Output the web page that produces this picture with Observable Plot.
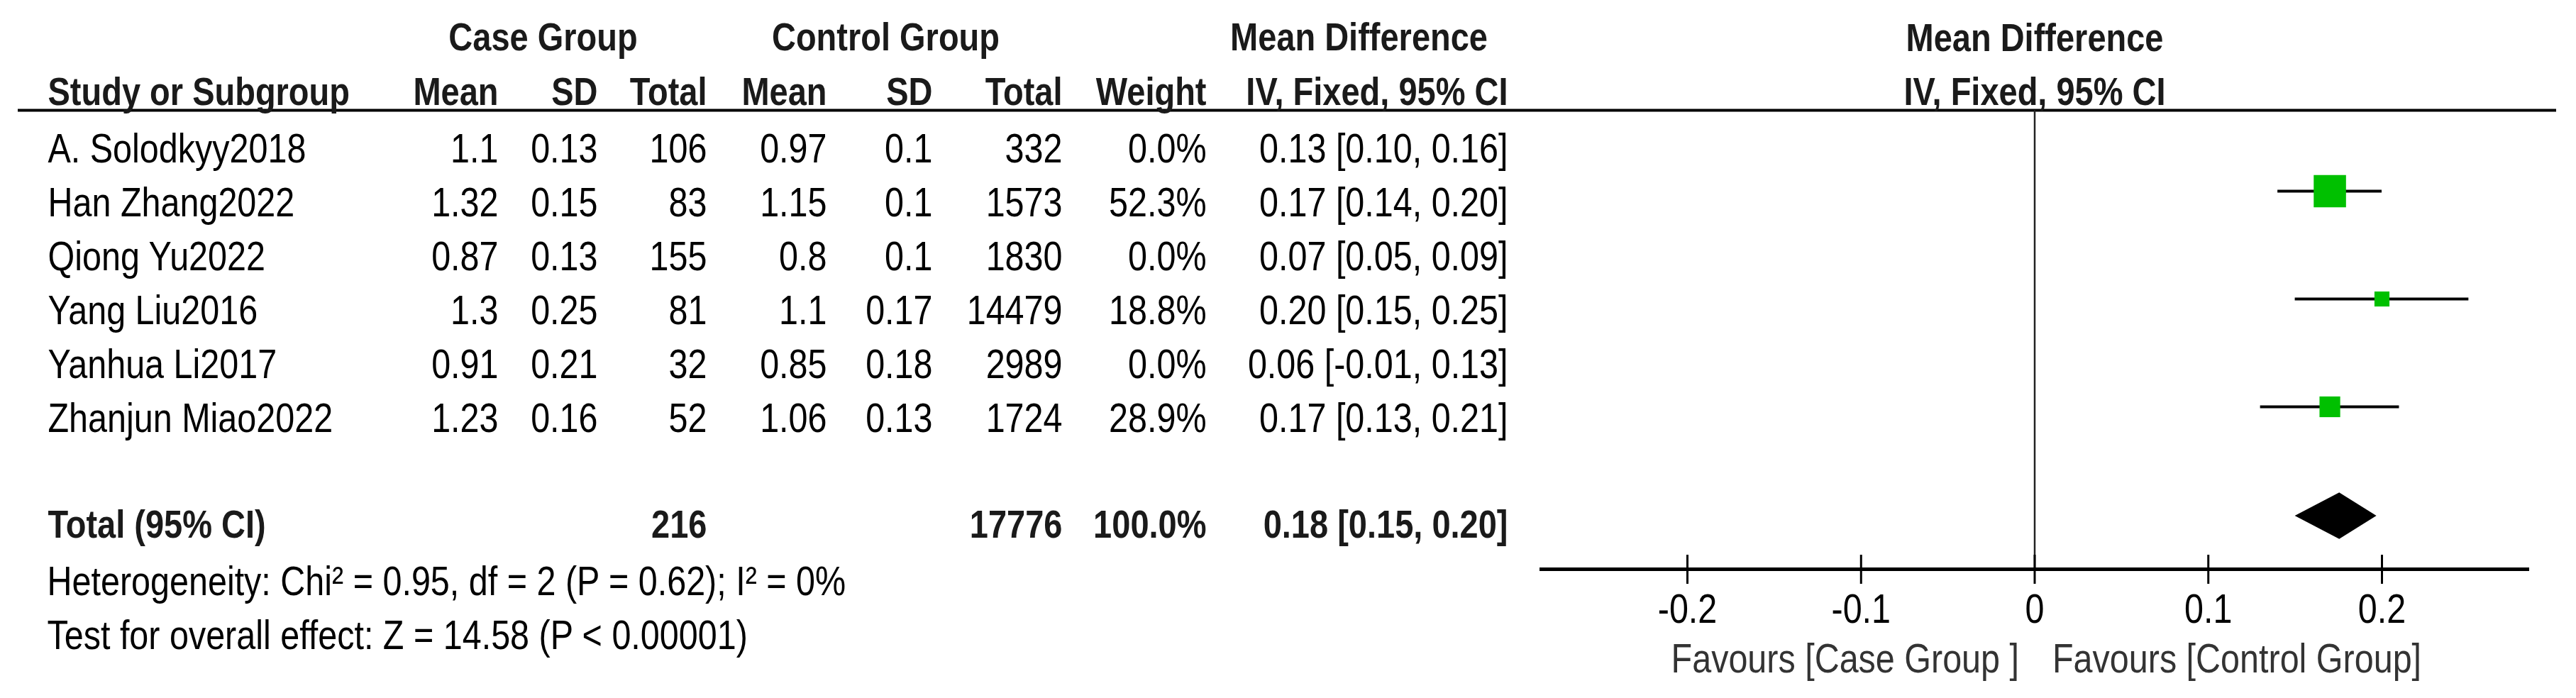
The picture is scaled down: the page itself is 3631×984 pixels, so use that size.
<!DOCTYPE html>
<html>
<head>
<meta charset="utf-8">
<script src="https://cdn.jsdelivr.net/npm/d3@7"></script>
<script src="https://cdn.jsdelivr.net/npm/@observablehq/plot@0.6"></script>
<style>
  html, body { margin: 0; padding: 0; background: #fff; }
  #chart { display: flex; flex-direction: row; width: 3631px; height: 984px; background: #fff; }
  #chart svg { display: block; background: #fff; }
</style>
</head>
<body>
<div id="chart"></div>
<script>
// ---------- data ----------
const studies    = ["A. Solodkyy2018", "Han Zhang2022", "Qiong Yu2022", "Yang Liu2016", "Yanhua Li2017", "Zhanjun Miao2022"];
const caseMean   = [1.1, 1.32, 0.87, 1.3, 0.91, 1.23];
const caseSD     = [0.13, 0.15, 0.13, 0.25, 0.21, 0.16];
const caseTotal  = [106, 83, 155, 81, 32, 52];
const ctrlMean   = [0.97, 1.15, 0.8, 1.1, 0.85, 1.06];
const ctrlSD     = [0.1, 0.1, 0.1, 0.17, 0.18, 0.13];
const ctrlTotal  = [332, 1573, 1830, 14479, 2989, 1724];
const weightPct  = [0.0, 52.3, 0.0, 18.8, 0.0, 28.9];
const meanDiff   = [0.13, 0.17, 0.07, 0.20, 0.06, 0.17];
const ciLow      = [0.10, 0.14, 0.05, 0.15, -0.01, 0.13];
const ciHigh     = [0.16, 0.20, 0.09, 0.25, 0.13, 0.21];

const totalLabel     = "Total (95% CI)";
const totalCase      = 216;
const totalCtrl      = 17776;
const totalWeight    = 100.0;
const totalMD        = 0.1756;
const totalLow       = 0.15;
const totalHigh      = 0.197;
const heterogeneity  = "Heterogeneity: Chi² = 0.95, df = 2 (P = 0.62); I² = 0%";
const overallEffect  = "Test for overall effect: Z = 14.58 (P < 0.00001)";
const groupHeaders   = ["Case Group", "Control Group", "Mean Difference"];
const columnHeaders  = ["Study or Subgroup", "Mean", "SD", "Total", "Mean", "SD", "Total", "Weight", "IV, Fixed, 95% CI"];
const plotHeaders    = ["Mean Difference", "IV, Fixed, 95% CI"];
const xTicks         = [-0.2, -0.1, 0, 0.1, 0.2];
const favours        = ["Favours [Case Group ]", "Favours [Control Group]"];

// ---------- layout ----------
const FONT = "'Liberation Sans', Arial, sans-serif";
const FS = 48.5, FSB = 47, STRETCH = 1.17;
const W1 = 2160, W2 = 3631 - W1, H = 984;
const yScale = {type: "linear", domain: [-2, 9], range: [76, 912], axis: null};
const headerRuleRow = -0.96, axisRow = 7.553, totalRow = 7, hetRow = 8, testRow = 9;
const columns = [
  {x: 67,   anchor: "start"},
  {x: 702,  anchor: "end"},
  {x: 842,  anchor: "end"},
  {x: 996,  anchor: "end"},
  {x: 1165, anchor: "end"},
  {x: 1314, anchor: "end"},
  {x: 1497, anchor: "end"},
  {x: 1700, anchor: "end"},
  {x: 2125, anchor: "end"}
];
const groupCenters = [765, 1248, 1915];

const ci = (m, lo, hi) => `${m.toFixed(2)} [${lo.toFixed(2)}, ${hi.toFixed(2)}]`;

// ---------- table cells ----------
const cells = [];
studies.forEach((s, i) => {
  const vals = [s, String(caseMean[i]), String(caseSD[i]), String(caseTotal[i]),
                String(ctrlMean[i]), String(ctrlSD[i]), String(ctrlTotal[i]),
                weightPct[i].toFixed(1) + "%", ci(meanDiff[i], ciLow[i], ciHigh[i])];
  vals.forEach((t, c) => cells.push({row: i, x: columns[c].x, anchor: columns[c].anchor, text: t}));
});
const headerCells = columnHeaders.map((t, c) => ({row: -1, x: columns[c].x, anchor: columns[c].anchor, text: t}));
const totalVals = [[0, totalLabel], [3, String(totalCase)], [6, String(totalCtrl)],
                   [7, totalWeight.toFixed(1) + "%"], [8, ci(totalMD, totalLow, totalHigh)]];
const totalCells = totalVals.map(([c, t]) => ({row: totalRow, x: columns[c].x, anchor: columns[c].anchor, text: t}));
const groupCells = groupHeaders.map((t, i) => ({row: -2, x: groupCenters[i], text: t}));
const footCells = [{row: hetRow, x: columns[0].x - 1, text: heterogeneity}, {row: testRow, x: columns[0].x - 1, text: overallEffect}];

const textOpts = {x: "x", y: "row", text: "text", lineAnchor: "bottom", fontSize: FS};
const boldOpts = {...textOpts, fontSize: FSB, fontWeight: "bold", fill: "#1a1a1a"};

const table = Plot.plot({
  width: W1, height: H, margin: 0,
  x: {type: "linear", domain: [0, W1], range: [0, W1], axis: null},
  y: yScale,
  style: {fontFamily: FONT, background: "#fff"},
  marks: [
    Plot.ruleY([headerRuleRow], {x1: 25, x2: W1, stroke: "#000", strokeWidth: 4}),
    Plot.text(groupCells, {...boldOpts, dy: -6, textAnchor: "middle"}),
    Plot.text(headerCells.filter(d => d.anchor === "start"), {...boldOpts, dy: -5, textAnchor: "start"}),
    Plot.text(headerCells.filter(d => d.anchor === "end"), {...boldOpts, dy: -5, textAnchor: "end"}),
    Plot.text(cells.filter(d => d.anchor === "start"), {...textOpts, textAnchor: "start", fill: "#000"}),
    Plot.text(cells.filter(d => d.anchor === "end"), {...textOpts, textAnchor: "end", fill: "#000"}),
    Plot.text(totalCells.filter(d => d.anchor === "start"), {...boldOpts, dy: -3, textAnchor: "start"}),
    Plot.text(totalCells.filter(d => d.anchor === "end"), {...boldOpts, dy: -3, textAnchor: "end"}),
    Plot.text(footCells, {...textOpts, dy: 2, textAnchor: "start", fill: "#000"})
  ]
});

// ---------- forest plot ----------
const drawn = studies.map((s, i) => ({row: i, md: meanDiff[i], lo: ciLow[i], hi: ciHigh[i], w: weightPct[i]}))
  .filter(d => d.w > 0);
const diamondHalf = 0.43;
const diamond = [
  {x: totalLow,  y1: totalRow, y2: totalRow},
  {x: totalMD,   y1: totalRow - diamondHalf, y2: totalRow + diamondHalf},
  {x: totalHigh, y1: totalRow, y2: totalRow}
];
const plotHeaderCells = plotHeaders.map((t, i) => ({row: i - 2, text: t}));

const forest = Plot.plot({
  width: W2, height: H, marginLeft: 10, marginRight: 66, marginTop: 0, marginBottom: 0,
  x: {domain: [-0.285, 0.285], axis: null},
  y: yScale,
  r: {type: "pow", exponent: 0.75, domain: [0, 52.3], range: [0, 25.7]},
  style: {fontFamily: FONT, background: "#fff"},
  marks: [
    Plot.ruleY([headerRuleRow], {insetLeft: -10, insetRight: -38, stroke: "#000", strokeWidth: 4}),
    Plot.text(plotHeaderCells, {x: 0, y: "row", text: "text", dy: -5, lineAnchor: "bottom", textAnchor: "middle", fontSize: FSB, fontWeight: "bold", fill: "#1a1a1a"}),
    Plot.ruleX([0], {y1: headerRuleRow, y2: axisRow, stroke: "#222", strokeWidth: 2.5}),
    Plot.ruleY([axisRow], {stroke: "#000", strokeWidth: 5}),
    Plot.ruleX(xTicks, {x: d => d, y1: axisRow, y2: axisRow, insetTop: -20, insetBottom: -21, stroke: "#000", strokeWidth: 3}),
    Plot.text(xTicks, {x: d => d, y: axisRow, text: d => String(d), dy: 75, lineAnchor: "bottom", textAnchor: "middle", fontSize: FS, fill: "#000"}),
    Plot.text([favours[0]], {x: 0, y: axisRow, text: d => d, dx: -22, dy: 145, lineAnchor: "bottom", textAnchor: "end", fontSize: FS, fill: "#333"}),
    Plot.text([favours[1]], {x: 0, y: axisRow, text: d => d, dx: 25, dy: 145, lineAnchor: "bottom", textAnchor: "start", fontSize: FS, fill: "#333"}),
    Plot.ruleY(drawn, {x1: "lo", x2: "hi", y: "row", dy: -35, stroke: "#000", strokeWidth: 4}),
    Plot.dot(drawn, {x: "md", y: "row", r: "w", dy: -35, symbol: "square", fill: "#00c000", stroke: "none"}),
    Plot.areaY(diamond, {x: "x", y1: "y1", y2: "y2", dy: -33, fill: "#000", curve: "linear"})
  ]
});

// the reference glyphs are taller than the font's natural proportions: stretch vertically about the baseline
function stretchText(svg) {
  d3.select(svg).selectAll("text").each(function () {
    const t = this.getAttribute("transform") || "";
    this.setAttribute("transform", `${t} scale(1,${STRETCH})`);
  });
}
stretchText(table);
stretchText(forest);

const chart = document.getElementById("chart");
chart.appendChild(table);
chart.appendChild(forest);
</script>
</body>
</html>
